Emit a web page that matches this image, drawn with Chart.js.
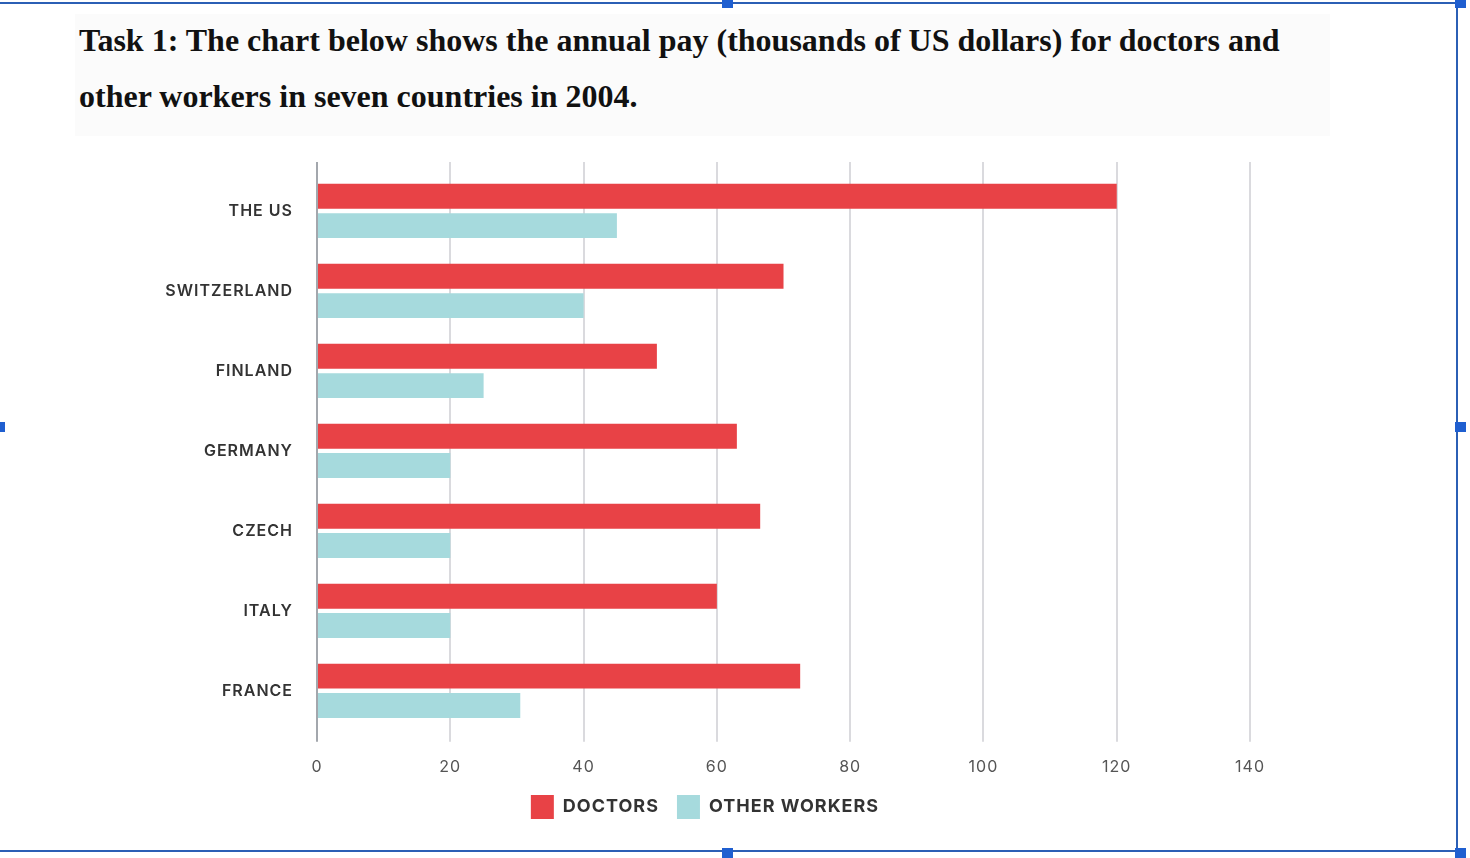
<!DOCTYPE html>
<html>
<head>
<meta charset="utf-8">
<script src="https://cdn.jsdelivr.net/npm/chart.js@4/dist/chart.umd.min.js"></script>
<style>
    body { margin: 0; background: #fff; width: 1470px; height: 858px; overflow: hidden; position: relative; }
    .title-box { position: absolute; left: 75px; top: 14px; width: 1255px; height: 122px; background: #fbfbfb; }
    .title { position: absolute; left: 79px; top: 12px; font: bold 32px "Liberation Serif", "Times New Roman", serif; line-height: 56px; color: #111; }
    #wrap { position: absolute; left: 140px; top: 150px; width: 1141px; height: 700px; }
    /* marco de seleccion azul */
    .frame { position: absolute; left: -5px; top: 2px; width: 1463px; height: 850px; border: 2px solid #2b5fb5; box-sizing: border-box; }
    .h { position: absolute; width: 11px; height: 10px; background: #1f5fd0; }
</style>
</head>
<body>
<div class="title-box"></div>
<div class="title">Task 1: The chart below shows the annual pay (thousands of US dollars) for doctors and<br>other workers in seven countries in 2004.</div>
<div id="wrap"><canvas id="payChart"></canvas></div>
<div class="frame"></div>
<div class="h" style="left:722px;top:-2px"></div>
<div class="h" style="left:1455px;top:-2px"></div>
<div class="h" style="left:1455px;top:422px"></div>
<div class="h" style="left:-6px;top:422px"></div>
<div class="h" style="left:722px;top:848px"></div>
<div class="h" style="left:1455px;top:848px"></div>

<script>
// Datos
const countries = ['THE US', 'SWITZERLAND', 'FINLAND', 'GERMANY', 'CZECH', 'ITALY', 'FRANCE'];
const doctors = [120, 70, 51, 63, 66.5, 60, 72.5];
const otherWorkers = [45, 40, 25, 20, 20, 20, 30.5];
const xTicks = [0, 20, 40, 60, 80, 100, 120, 140];

const gridColor = (ctx) => ctx.tick && ctx.tick.value === 0 ? '#a3a7ad' : '#dadade';

// espaciado entre letras para todo el texto del canvas
const spacing = {
    id: 'spacing',
    beforeUpdate: (chart) => { chart.ctx.letterSpacing = '1px'; },
    beforeDraw: (chart) => { chart.ctx.letterSpacing = '1px'; }
};

// sube un poco la leyenda, mas pegada al eje
const legendUp = {
    id: 'legendUp',
    afterLayout: (chart) => {
        chart.legend.top -= 16;
        chart.legend.bottom -= 16;
    }
};

let ctx = document.getElementById('payChart').getContext('2d');
let payChart = new Chart(ctx, {
    type: 'bar',
    data: {
        labels: countries,
        datasets: [{
            label: 'DOCTORS',
            data: doctors,
            backgroundColor: '#e84246',
            borderWidth: 0,
            categoryPercentage: 0.733,
            barPercentage: 0.85
        }, {
            label: 'OTHER WORKERS',
            data: otherWorkers,
            backgroundColor: '#a6dadd',
            borderWidth: 0,
            categoryPercentage: 0.733,
            barPercentage: 0.85
        }]
    },
    options: {
        indexAxis: 'y',
        responsive: true,
        maintainAspectRatio: false,
        animation: false,
        layout: {
            padding: { top: 12, right: 11, bottom: 5, left: 0 }
        },
        plugins: {
            tooltip: { enabled: false },
            legend: {
                position: 'bottom',
                labels: {
                    boxWidth: 23,
                    boxHeight: 24,
                    padding: 18,
                    color: '#333',
                    font: { family: 'Inter', size: 18, weight: 'bold' }
                }
            }
        },
        scales: {
            x: {
                position: 'bottom',
                min: xTicks[0],
                max: xTicks[xTicks.length - 1],
                ticks: {
                    stepSize: xTicks[1] - xTicks[0],
                    color: '#555',
                    padding: 16,
                    font: { family: 'Inter', size: 16 }
                },
                grid: {
                    color: gridColor,
                    lineWidth: 2,
                    tickLength: 11
                },
                border: { display: false }
            },
            xTop: {
                type: 'linear',
                axis: 'x',
                position: 'top',
                min: xTicks[0],
                max: xTicks[xTicks.length - 1],
                ticks: { display: false, stepSize: xTicks[1] - xTicks[0] },
                grid: {
                    color: gridColor,
                    lineWidth: 2,
                    tickLength: 9,
                    drawOnChartArea: false
                },
                border: { display: false }
            },
            y: {
                ticks: {
                    color: '#333',
                    padding: 0,
                    font: { family: 'Inter', size: 16, weight: '600' }
                },
                grid: { display: false, drawTicks: true, tickLength: 24 },
                border: { display: false },
                afterFit: (scale) => { scale.width = 177; }
            }
        }
    },
    plugins: [spacing, legendUp]
});
</script>
</body>
</html>
